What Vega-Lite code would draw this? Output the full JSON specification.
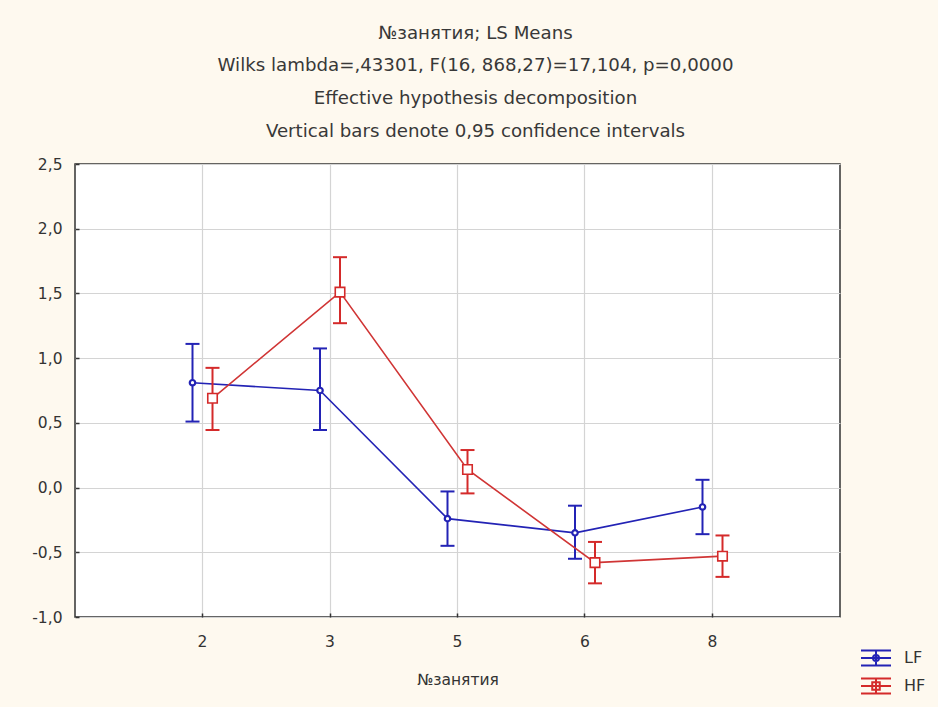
{
  "$schema": "https://vega.github.io/schema/vega-lite/v6.json",
  "width": 765,
  "height": 453,
  "autosize": "none",
  "padding": {"left": 75, "top": 164, "right": 98, "bottom": 90},
  "background": "#FEF9EF",
  "title": {
    "text": ["№занятия; LS Means", "Wilks lambda=,43301, F(16, 868,27)=17,104, p=0,0000", "Effective hypothesis decomposition", "Vertical bars denote 0,95 confidence intervals"],
    "font": "DejaVu Sans",
    "fontSize": 18.2,
    "fontWeight": "normal",
    "color": "#383838",
    "lineHeight": 32.7,
    "anchor": "middle",
    "dx": 18,
    "offset": 16
  },
  "data": {
    "values": [
      {"group": "LF", "session": 2, "mean": 0.81, "lo": 0.51, "hi": 1.11},
      {"group": "LF", "session": 3, "mean": 0.75, "lo": 0.445, "hi": 1.075},
      {"group": "LF", "session": 5, "mean": -0.24, "lo": -0.45, "hi": -0.03},
      {"group": "LF", "session": 6, "mean": -0.35, "lo": -0.55, "hi": -0.14},
      {"group": "LF", "session": 8, "mean": -0.15, "lo": -0.36, "hi": 0.06},
      {"group": "HF", "session": 2, "mean": 0.69, "lo": 0.445, "hi": 0.925},
      {"group": "HF", "session": 3, "mean": 1.51, "lo": 1.27, "hi": 1.78},
      {"group": "HF", "session": 5, "mean": 0.14, "lo": -0.045, "hi": 0.29},
      {"group": "HF", "session": 6, "mean": -0.58, "lo": -0.74, "hi": -0.42},
      {"group": "HF", "session": 8, "mean": -0.53, "lo": -0.69, "hi": -0.37}
    ]
  },
  "layer": [
    {
      "transform": [{"filter": "datum.group === 'LF'"}],
      "encoding": {
        "x": {"field": "session", "type": "ordinal", "bandPosition": 0,
              "scale": {"type": "band", "paddingInner": 0.8431, "paddingOuter": 0.92157},
              "axis": {"title": "№занятия", "bandPosition": 0.5, "labelAngle": 0}},
        "y": {"field": "mean", "type": "quantitative",
              "scale": {"domain": [-1, 2.5], "nice": false, "zero": false},
              "axis": {"title": null, "values": [-1, -0.5, 0, 0.5, 1, 1.5, 2, 2.5],
                       "labelExpr": "replace(replace(format(datum.value, '.1f'), '.', ','), '\u2212', '-')"}}
      },
      "layer": [
        {"mark": {"type": "line", "color": "#2323B5", "strokeWidth": 1.6}},
        {"mark": {"type": "rule", "color": "#2323B5", "strokeWidth": 2}, "encoding": {"y": {"field": "lo", "type": "quantitative"}, "y2": {"field": "hi"}}},
        {"mark": {"type": "point", "shape": "stroke", "size": 196, "filled": false, "color": "#2323B5", "strokeWidth": 2, "opacity": 1}, "encoding": {"y": {"field": "lo", "type": "quantitative"}}},
        {"mark": {"type": "point", "shape": "stroke", "size": 196, "filled": false, "color": "#2323B5", "strokeWidth": 2, "opacity": 1}, "encoding": {"y": {"field": "hi", "type": "quantitative"}}},
        {"mark": {"type": "point", "shape": "circle", "size": 30, "filled": false, "fill": "white", "fillOpacity": 1, "color": "#2323B5", "strokeWidth": 2.2, "opacity": 1}}
      ]
    },
    {
      "transform": [{"filter": "datum.group === 'HF'"}],
      "encoding": {
        "x": {"field": "session", "type": "ordinal", "bandPosition": 1,
              "scale": {"type": "band", "paddingInner": 0.8431, "paddingOuter": 0.92157}},
        "y": {"field": "mean", "type": "quantitative"}
      },
      "layer": [
        {"mark": {"type": "line", "color": "#D03535", "strokeWidth": 1.6}},
        {"mark": {"type": "rule", "color": "#D42A2A", "strokeWidth": 2}, "encoding": {"y": {"field": "lo", "type": "quantitative"}, "y2": {"field": "hi"}}},
        {"mark": {"type": "point", "shape": "stroke", "size": 196, "filled": false, "color": "#D42A2A", "strokeWidth": 2, "opacity": 1}, "encoding": {"y": {"field": "lo", "type": "quantitative"}}},
        {"mark": {"type": "point", "shape": "stroke", "size": 196, "filled": false, "color": "#D42A2A", "strokeWidth": 2, "opacity": 1}, "encoding": {"y": {"field": "hi", "type": "quantitative"}}},
        {"mark": {"type": "point", "shape": "square", "size": 90, "filled": false, "fill": "white", "fillOpacity": 1, "color": "#D42A2A", "strokeWidth": 1.6, "opacity": 1}}
      ]
    },
    {
      "mark": {"type": "point", "filled": false, "opacity": 0},
      "encoding": {
        "x": {"field": "session", "type": "ordinal"},
        "y": {"field": "mean", "type": "quantitative"},
        "color": {"field": "group", "type": "nominal",
                  "scale": {"domain": ["LF", "HF"], "range": ["#2323B5", "#D42A2A"]},
                  "legend": {"orient": "none", "legendX": 785, "legendY": 478, "title": null,
                             "symbolSize": 900, "symbolStrokeWidth": 2, "symbolOpacity": 1,
                             "symbolFillColor": "transparent",
                             "labelFont": "DejaVu Sans", "labelFontSize": 16, "labelColor": "#333333",
                             "labelOffset": 12, "rowPadding": 0}},
        "shape": {"field": "group", "type": "nominal",
                  "scale": {"domain": ["LF", "HF"], "range": [
                    "M-1,-0.5H1M-1,0H1M-1,0.5H1M0,-0.5V0.5M0.2,0A0.2,0.2,0,1,1,-0.2,0A0.2,0.2,0,1,1,0.2,0",
                    "M-1,-0.5H1M-1,0H1M-1,0.5H1M0,-0.5V0.5M-0.25,-0.25H0.25V0.25H-0.25Z"]},
                  "legend": null}
      }
    }
  ],
  "config": {
    "view": {"fill": "white", "stroke": "#333333", "strokeWidth": 1.5},
    "axis": {
      "labelFont": "DejaVu Sans", "labelFontSize": 15.5, "labelColor": "#333333",
      "titleFont": "DejaVu Sans", "titleFontSize": 15.5, "titleFontWeight": "normal", "titleColor": "#333333",
      "gridColor": "#D4D4D4", "gridWidth": 1.2, "grid": true,
      "domain": false, "tickColor": "#333333", "tickSize": -4, "tickWidth": 1.5
    },
    "axisX": {"labelPadding": 21, "titlePadding": 23},
    "axisY": {"labelPadding": 17}
  }
}
